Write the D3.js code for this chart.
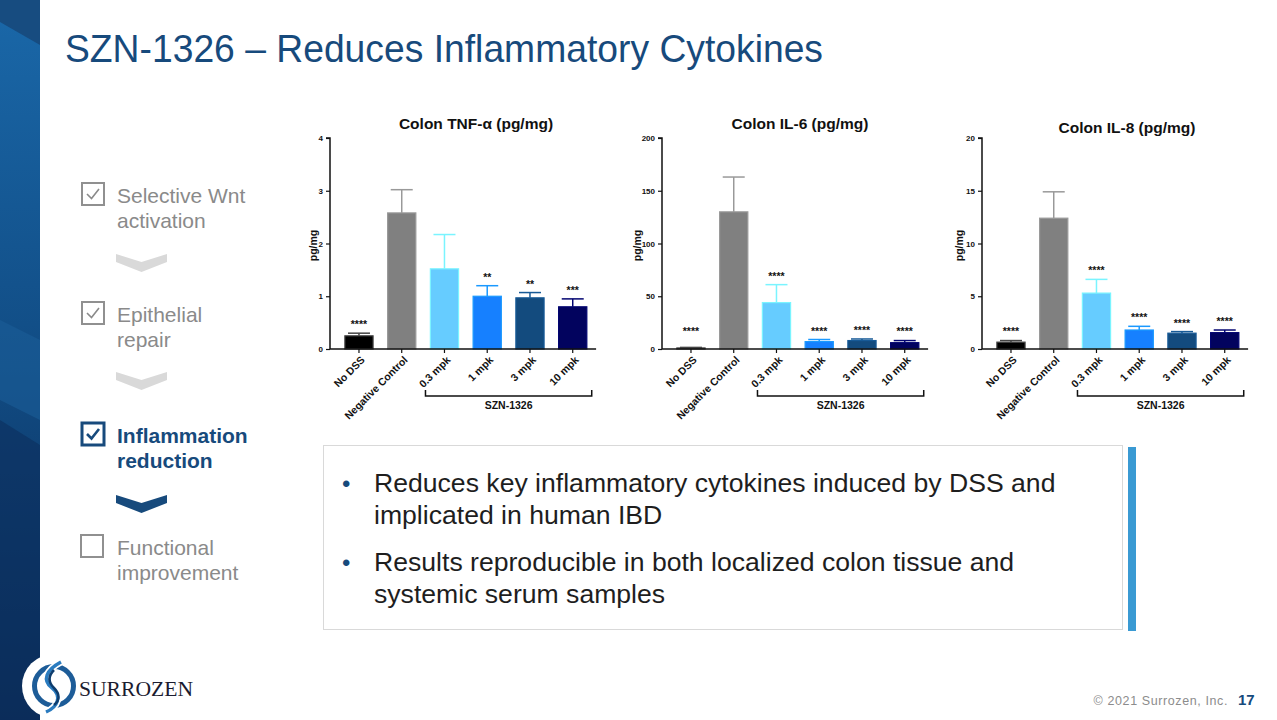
<!DOCTYPE html>
<html>
<head>
<meta charset="utf-8">
<script src="https://cdn.jsdelivr.net/npm/d3@7"></script>
<style>
  body { margin: 0; background: #fff; }
  svg { display: block; font-family: Arial, "Liberation Sans", sans-serif; }
</style>
</head>
<body>
<script>
// chart data
const groups = ["No DSS", "Negative Control", "0.3 mpk", "1 mpk", "3 mpk", "10 mpk"];
const groupColors = ["#000000", "#808080", "#66ccff", "#1680ff", "#134b7e", "#02035e"];

const tnfMeans  = [0.25, 2.58, 1.52, 1.0, 0.97, 0.80];
const tnfErrors = [0.05, 0.44, 0.65, 0.20, 0.10, 0.15];
const tnfStars  = ["****", "", "", "**", "**", "***"];
const tnfTicks  = [0, 1, 2, 3, 4];

const il6Means  = [1, 130, 44, 7, 8, 6];
const il6Errors = [0.5, 33, 17, 2, 1.5, 2];
const il6Stars  = ["****", "", "****", "****", "****", "****"];
const il6Ticks  = [0, 50, 100, 150, 200];

const il8Means  = [0.65, 12.4, 5.3, 1.8, 1.5, 1.55];
const il8Errors = [0.15, 2.5, 1.3, 0.35, 0.15, 0.25];
const il8Stars  = ["****", "", "****", "****", "****", "****"];
const il8Ticks  = [0, 5, 10, 15, 20];

const stepLabels = ["Selective Wnt|activation", "Epithelial|repair", "Inflammation|reduction", "Functional|improvement"];
const bullets = [
  ["Reduces key inflammatory cytokines induced by DSS and", "implicated in human IBD"],
  ["Results reproducible in both localized colon tissue and", "systemic serum samples"]
];

const W = 1277, H = 720;
const navy = "#174a7c";

const svg = d3.select("body").append("svg")
  .attr("width", W).attr("height", H);

// ---- left strip ----
const defs = svg.append("defs");
const g1 = defs.append("linearGradient").attr("id", "strip")
  .attr("x1", 0).attr("y1", 0).attr("x2", 0).attr("y2", 1);
g1.append("stop").attr("offset", "0%").attr("stop-color", "#1a68a9");
g1.append("stop").attr("offset", "45%").attr("stop-color", "#124f88");
g1.append("stop").attr("offset", "100%").attr("stop-color", "#0a2a55");

svg.append("rect").attr("x", 0).attr("y", 0).attr("width", 40).attr("height", H)
  .attr("fill", "url(#strip)");
svg.append("path").attr("d", "M0,0 L40,0 L40,45 L0,22 Z").attr("fill", "#174c80");
svg.append("path").attr("d", "M0,320 L40,340 L40,420 L0,400 Z").attr("fill", "#1a5d98").attr("opacity", 0.6);
svg.append("path").attr("d", "M0,420 L40,445 L40,720 L0,720 Z").attr("fill", "#0b2f5e").attr("opacity", 0.6);

// ---- title ----
svg.append("text")
  .attr("x", 65).attr("y", 62)
  .attr("font-size", 39)
  .attr("fill", navy)
  .attr("textLength", 758).attr("lengthAdjust", "spacingAndGlyphs")
  .text("SZN-1326 \u2013 Reduces Inflammatory Cytokines");

// ---- progress steps on the left ----
const stepY = [183, 302, 423, 535];
const chevronY = [254, 372, 495];

stepLabels.forEach((lab, i) => {
  const active = i === 2;
  const done = i < 3;
  const col = active ? navy : "#8a8a8a";
  const bx = i === 3 ? 81 : 82;
  svg.append("rect")
    .attr("x", bx).attr("y", stepY[i])
    .attr("width", 22).attr("height", 22)
    .attr("fill", "none")
    .attr("stroke", active ? navy : "#909090")
    .attr("stroke-width", active ? 3 : 2);
  if (done) {
    svg.append("path")
      .attr("d", `M${bx + 5},${stepY[i] + 11} L${bx + 9.5},${stepY[i] + 15.5} L${bx + 17},${stepY[i] + 6}`)
      .attr("fill", "none").attr("stroke", col)
      .attr("stroke-width", active ? 2.6 : 1.6);
  }
  const lines = lab.split("|");
  lines.forEach((t, j) => {
    svg.append("text")
      .attr("x", 117).attr("y", stepY[i] + 20 + j * 25)
      .attr("font-size", 21)
      .attr("font-weight", active ? "bold" : "normal")
      .attr("fill", col)
      .text(t);
  });
});

chevronY.forEach((y, i) => {
  svg.append("path")
    .attr("d", `M116,${y} L141.5,${y + 8} L167,${y} L167,${y + 8} L141.5,${y + 18} L116,${y + 8} Z`)
    .attr("fill", i === 2 ? navy : "#d9d9d9");
});

// ---- bar charts ----
const charts = [
  { title: "Colon TNF-\u03b1 (pg/mg)", means: tnfMeans, errs: tnfErrors, stars: tnfStars, ticks: tnfTicks, axisX: 330, titleX: 476, titleY: 129, labelDx: 13 },
  { title: "Colon IL-6 (pg/mg)", means: il6Means, errs: il6Errors, stars: il6Stars, ticks: il6Ticks, axisX: 662, titleX: 800, titleY: 129, labelDx: 21 },
  { title: "Colon IL-8 (pg/mg)", means: il8Means, errs: il8Errors, stars: il8Stars, ticks: il8Ticks, axisX: 982, titleX: 1127, titleY: 133, labelDx: 19 }
];

const y0 = 349, y1 = 138;

charts.forEach(c => {
  const g = svg.append("g");
  const x = d3.scaleBand()
    .domain(groups)
    .range([c.axisX + 7.6, c.axisX + 7.6 + 256.5])
    .paddingInner(0.34).paddingOuter(0.17);
  const y = d3.scaleLinear()
    .domain([0, d3.max(c.ticks)])
    .range([y0, y1]);

  g.append("text")
    .attr("x", c.titleX).attr("y", c.titleY)
    .attr("text-anchor", "middle")
    .attr("font-size", 15.5).attr("font-weight", "bold")
    .attr("fill", "#111")
    .text(c.title);

  // bars
  g.selectAll(".bar").data(c.means).enter().append("rect")
    .attr("x", (d, i) => x(groups[i]))
    .attr("y", d => y(d))
    .attr("width", x.bandwidth())
    .attr("height", d => y0 - y(d))
    .attr("fill", (d, i) => groupColors[i])
    .attr("stroke", (d, i) => i === 0 ? "#444" : d3.color(groupColors[i]).brighter(0.5))
    .attr("stroke-width", 1.2);

  // error bars (upper only)
  c.means.forEach((m, i) => {
    const cx = x(groups[i]) + x.bandwidth() / 2;
    const top = y(m + c.errs[i]);
    const ec = i === 0 ? "#444" : d3.color(groupColors[i]).brighter(0.5);
    g.append("line")
      .attr("x1", cx).attr("x2", cx)
      .attr("y1", y(m)).attr("y2", top)
      .attr("stroke", ec).attr("stroke-width", 1.5);
    g.append("line")
      .attr("x1", cx - 11).attr("x2", cx + 11)
      .attr("y1", top).attr("y2", top)
      .attr("stroke", ec).attr("stroke-width", 1.5);
    if (c.stars[i]) {
      const sy = Math.min(top - 11, y0 - 20);
      g.append("text")
        .attr("x", cx).attr("y", sy + 6)
        .attr("text-anchor", "middle")
        .attr("font-size", 10.5).attr("font-weight", "bold")
        .attr("fill", "#111")
        .text(c.stars[i]);
    }
  });

  // y axis
  const ya = g.append("g")
    .attr("transform", `translate(${c.axisX},0)`)
    .call(d3.axisLeft(y).tickValues(c.ticks).tickSize(4).tickPadding(3).tickFormat(d3.format("d")));
  ya.select(".domain").attr("stroke", "#111").attr("stroke-width", 1.5)
    .attr("d", `M-4,${y1}H0V${y0}`);
  ya.selectAll(".tick line").attr("stroke", "#111").attr("stroke-width", 1.2);
  ya.selectAll(".tick text").attr("font-size", 8).attr("font-weight", "bold")
    .attr("font-family", "Arial, 'Liberation Sans', sans-serif").attr("fill", "#111");

  // x axis with ticks under each bar
  const xa = g.append("g")
    .attr("transform", `translate(0,${y0})`)
    .call(d3.axisBottom(x).tickSize(4).tickFormat(""));
  xa.select(".domain").attr("stroke", "#111").attr("stroke-width", 1.5)
    .attr("d", `M${c.axisX},0H${x.range()[1] + 2}`);
  xa.selectAll(".tick line").attr("stroke", "#111").attr("stroke-width", 1.2);

  // y label
  g.append("text")
    .attr("transform", `translate(${c.axisX - c.labelDx},${(y0 + y1) / 2 + 2}) rotate(-90)`)
    .attr("text-anchor", "middle")
    .attr("font-size", 10.5).attr("font-weight", "bold")
    .attr("fill", "#111")
    .text("pg/mg");

  // rotated category labels
  groups.forEach(name => {
    const cx = x(name) + x.bandwidth() / 2;
    g.append("text")
      .attr("transform", `translate(${cx + 4},${y0 + 9}) rotate(-45)`)
      .attr("text-anchor", "end")
      .attr("dy", "0.35em")
      .attr("font-size", 10.5).attr("font-weight", "bold")
      .attr("fill", "#111")
      .text(name);
  });

  // SZN-1326 bracket
  const bx0 = x("0.3 mpk") + x.bandwidth() / 2 - 19;
  const bx1 = x("10 mpk") + x.bandwidth() / 2 + 19;
  g.append("path")
    .attr("d", `M${bx0},390 V396 H${bx1} V390`)
    .attr("fill", "none").attr("stroke", "#111").attr("stroke-width", 1.5);
  g.append("text")
    .attr("x", (bx0 + bx1) / 2).attr("y", 409)
    .attr("text-anchor", "middle")
    .attr("font-size", 10.5).attr("font-weight", "bold")
    .attr("fill", "#111")
    .text("SZN-1326");
});

// ---- bullet box ----
svg.append("rect")
  .attr("x", 323.5).attr("y", 445.5).attr("width", 799).attr("height", 184)
  .attr("fill", "#fff").attr("stroke", "#d9d9d9").attr("stroke-width", 1);
svg.append("rect")
  .attr("x", 1128).attr("y", 447).attr("width", 8).attr("height", 184)
  .attr("fill", "#3a9ad3");

const bulletY = [491.5, 571];
bullets.forEach((lines, i) => {
  svg.append("text")
    .attr("x", 342).attr("y", bulletY[i])
    .attr("font-size", 24).attr("fill", navy)
    .text("\u2022");
  lines.forEach((t, j) => {
    svg.append("text")
      .attr("x", 374).attr("y", bulletY[i] + j * 32)
      .attr("font-size", 26.6).attr("fill", "#1e1e1e")
      .text(t);
  });
});

// ---- logo ----
svg.append("circle").attr("cx", 54).attr("cy", 686).attr("r", 32).attr("fill", "#fff");
svg.append("circle").attr("cx", 54).attr("cy", 686).attr("r", 19.5)
  .attr("fill", "none").attr("stroke", "#1d5c98").attr("stroke-width", 5);
svg.append("path")
  .attr("d", "M61,662 C46,670 42,680 52,688 C62,696 58,707 46,712")
  .attr("fill", "none").attr("stroke", "#fff").attr("stroke-width", 7);
svg.append("path")
  .attr("d", "M61,662 C46,670 42,680 52,688 C62,696 58,707 46,712")
  .attr("fill", "none").attr("stroke", "#2a7bbf").attr("stroke-width", 3.5);
svg.append("path")
  .attr("d", "M54,670 C48,676 48,682 54,688 C60,694 60,700 54,705")
  .attr("fill", "none").attr("stroke", "#0e3d6e").attr("stroke-width", 2.5);

svg.append("text")
  .attr("x", 79).attr("y", 696)
  .attr("font-family", "'Liberation Serif', 'DejaVu Serif', serif")
  .attr("font-size", 20)
  .attr("fill", "#1b1b2f")
  .attr("textLength", 114).attr("lengthAdjust", "spacingAndGlyphs")
  .text("SURROZEN");

// ---- footer ----
svg.append("text")
  .attr("x", 1228).attr("y", 705)
  .attr("text-anchor", "end")
  .attr("font-size", 12.5).attr("fill", "#8c8c8c")
  .attr("letter-spacing", 0.6)
  .text("\u00a9 2021 Surrozen, Inc.");
svg.append("text")
  .attr("x", 1238).attr("y", 705)
  .attr("font-size", 15).attr("font-weight", "bold")
  .attr("fill", navy)
  .text("17");
</script>
</body>
</html>
